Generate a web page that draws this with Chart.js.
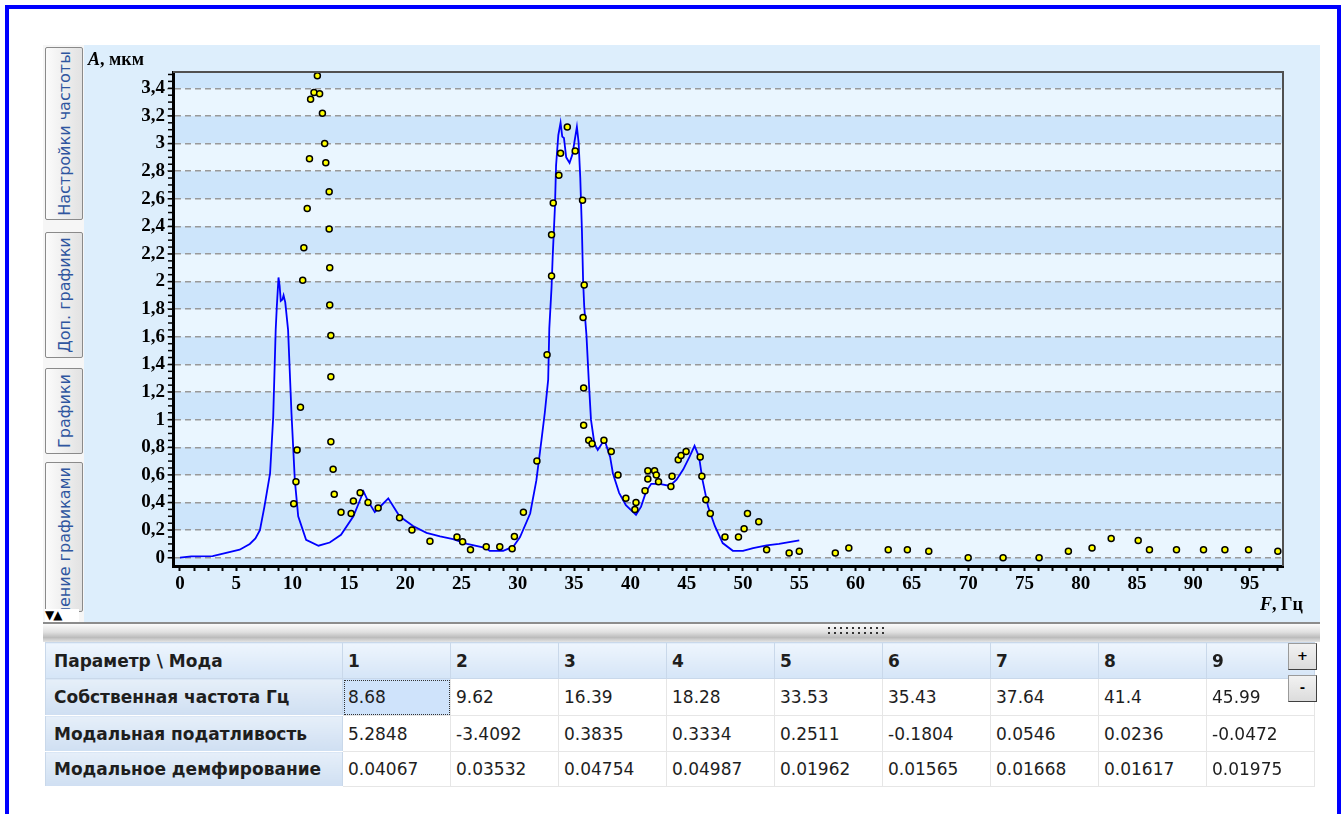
<!DOCTYPE html>
<html>
<head>
<meta charset="utf-8">
<script src="https://cdn.jsdelivr.net/npm/chart.js@4.4.0/dist/chart.umd.min.js"></script>
<style>
  body { margin: 0; width: 1344px; height: 814px; overflow: hidden; background: #fff; position: relative; font-family: "DejaVu Sans", sans-serif; }
  #frame { position: absolute; left: 5px; top: 5px; width: 1328px; height: 900px; border: 4px solid #0000ff; }
  #panel { position: absolute; left: 43px; top: 45px; width: 1277px; height: 577px; background: #ddeefc; }
  #strip { position: absolute; left: 43px; top: 45px; width: 41px; height: 577px; background: #f6f6f6; }
  .tab { position: absolute; left: 45px; width: 36px; background: linear-gradient(to right, #fbfbfb, #e2e2e2); border: 1px solid #8a8a8a; border-radius: 2px; overflow: hidden; }
  .tab .txt { position: absolute; left: 0; transform-origin: 0 0; transform: rotate(-90deg); display: flex; align-items: center; justify-content: center; white-space: nowrap; color: #2f56a0; font-size: 16px; }
  .tab .txt.end { justify-content: flex-end; padding-right: 4px; box-sizing: border-box; }
  #arrows { position: absolute; left: 45px; top: 609px; width: 34px; height: 13px; background: #fff; font-size: 12px; line-height: 13px; color: #000; letter-spacing: -1px; }
  #wrap { position: absolute; left: 84px; top: 45px; width: 1236px; height: 577px; }
  .atitle { position: absolute; font-family: "Liberation Serif", serif; font-weight: bold; font-size: 18px; color: #000; white-space: nowrap; }
  .atitle i { font-style: italic; }
  #split { position: absolute; left: 43px; top: 622px; width: 1277px; height: 18px; border-top: 2px solid #8c8c8c; background: linear-gradient(#fbfbfb, #e0e0e0 45%, #bcbcbc 75%, #e4e4e4); }
  .grip { position: absolute; left: 785px; width: 58px; height: 2px; background: repeating-linear-gradient(to right, #333 0 2px, transparent 2px 6px); }
  #tbl { position: absolute; left: 45px; top: 642px; border-collapse: collapse; table-layout: fixed; font-size: 17px; color: #1e1e1e; }
  #tbl td { padding: 0 0 0 5px; border: 1px solid #e6e6e6; background: #fff; white-space: nowrap; overflow: hidden; }
  #tbl tr.head td { background: linear-gradient(#eef5fd, #d5e5f7); border-color: #c9d8ea; font-weight: bold; }
  #tbl td.name { background: linear-gradient(#e6eff9, #cfdff2); border-color: #fff #c9d8ea; font-weight: bold; padding-left: 8px; }
  #tbl td.sel { background: #cfe3fb; outline: 1px dotted #333; outline-offset: -2px; }
  .btn { position: absolute; left: 1288px; width: 27px; height: 25px; background: linear-gradient(#f2f2f2, #dcdcdc); border: 1px solid #9a9a9a; border-right-color: #404040; border-bottom-color: #404040; font-weight: bold; font-size: 13px; text-align: center; line-height: 24px; color: #000; }
</style>
</head>
<body>
<div id="frame"></div>
<div id="panel"></div>
<div id="strip"></div>
<div class="tab" style="top:47px;height:171px"><div class="txt" style="top:171px;width:171px;height:36px">Настройки частоты</div></div>
<div class="tab" style="top:232px;height:124px"><div class="txt" style="top:124px;width:124px;height:36px">Доп. графики</div></div>
<div class="tab" style="top:368px;height:84px"><div class="txt" style="top:84px;width:84px;height:36px">Графики</div></div>
<div class="tab" style="top:462px;height:148px"><div class="txt end" style="top:148px;width:148px;height:36px">Управление графиками</div></div>
<div id="arrows">&#9660;&#9650;</div>
<div id="wrap"><canvas id="myChart" width="1236" height="577"></canvas></div>
<div class="atitle" style="left:88px;top:49px"><i>A</i>, мкм</div>
<div class="atitle" style="left:1260px;top:594px"><i>F</i>, Гц</div>
<div id="split"><div class="grip" style="top:3px"></div><div class="grip" style="top:8px"></div></div>
<table id="tbl"></table>
<div class="btn" style="top:643px">+</div>
<div class="btn" style="top:675px">-</div>

<script>
// расчётная АЧХ (синяя линия)
const lineF = [0, 1.0, 2.9, 4.1, 5.3, 6.2, 6.7, 7.1, 7.5, 8.0, 8.28, 8.5, 8.6, 8.75, 8.85, 8.95, 9.1, 9.2, 9.35, 9.6,
  9.9, 10.2, 10.5, 11.2, 12.3, 13.3, 14.3, 15.4, 16.0, 16.3, 16.7, 17.3, 17.9, 18.5, 19.5, 20.7, 21.9, 23.1, 24.25, 25.5,
  27.2, 27.5, 28.7, 29.6, 30.2, 31.1, 31.65, 32.1, 32.4, 32.7, 32.8, 33.0, 33.1, 33.3, 33.4, 33.6, 33.8, 33.95, 34.1, 34.3,
  34.6, 34.85, 35.05, 35.25, 35.4, 35.55, 35.7, 35.8, 35.9, 36.1, 36.3, 36.5, 36.8, 37.1, 37.5, 37.8, 38.2, 38.45, 39.0, 39.6,
  40.5, 40.95, 41.4, 41.85, 42.6, 43.5, 44.1, 44.7, 45.25, 45.7, 46.1, 46.4, 46.9, 47.5, 48.2, 49.1, 50.0, 50.9, 52.1, 53.2, 55.0];
const lineA = [0, 0.01, 0.012, 0.035, 0.058, 0.10, 0.14, 0.20, 0.37, 0.61, 1.02, 1.65, 1.82, 2.03, 1.97, 1.86, 1.87, 1.90, 1.85, 1.65,
  1.05, 0.56, 0.30, 0.13, 0.087, 0.11, 0.166, 0.30, 0.42, 0.48, 0.41, 0.33, 0.38, 0.43, 0.30, 0.23, 0.18, 0.154, 0.135, 0.10,
  0.07, 0.05, 0.05, 0.08, 0.15, 0.32, 0.56, 0.85, 1.05, 1.29, 1.66, 1.96, 2.18, 2.54, 2.84, 3.06, 3.15, 3.05, 3.04, 2.90,
  2.86, 2.92, 3.02, 3.12, 3.01, 2.75, 2.36, 2.01, 1.82, 1.61, 1.29, 1.0, 0.83, 0.78, 0.83, 0.83, 0.73, 0.61, 0.47, 0.38,
  0.31, 0.37, 0.48, 0.535, 0.535, 0.52, 0.565, 0.64, 0.73, 0.81, 0.73, 0.565, 0.37, 0.23, 0.106, 0.05, 0.05, 0.07, 0.09, 0.10, 0.125];

// экспериментальные точки (жёлтые)
const ptF = [10.1, 10.3, 10.4, 10.7, 10.9, 11.0, 11.3, 11.5, 11.6, 11.9, 12.2, 12.4, 12.65, 12.85, 12.95, 13.25, 13.25, 13.3, 13.3, 13.4,
  13.4, 13.4, 13.6, 13.7, 14.3, 15.2, 15.4, 16.0, 16.7, 17.6, 19.5, 20.6, 22.2, 24.6, 25.1, 25.8, 27.2, 28.4, 29.5, 29.7,
  30.5, 31.7, 32.6, 33.0, 33.0, 33.15, 33.65, 33.8, 34.4, 35.1, 35.75, 35.9, 35.8, 35.85, 35.85, 36.3, 36.6, 37.65, 38.3, 38.9,
  39.6, 40.5, 40.4, 41.3, 41.55, 41.55, 42.15, 42.3, 42.5, 43.6, 43.7, 44.25, 44.5, 44.95, 46.2, 46.35, 46.7, 47.1, 48.4, 49.6,
  50.1, 50.4, 51.4, 52.1, 54.1, 55.0, 58.2, 59.4, 62.9, 64.6, 66.5, 70.0, 73.1, 76.3, 78.9, 81.0, 82.7, 85.1, 86.1, 88.5,
  90.9, 92.8, 94.9, 97.5];
const ptA = [0.39, 0.55, 0.78, 1.09, 2.01, 2.245, 2.53, 2.89, 3.32, 3.37, 3.49, 3.36, 3.22, 3.00, 2.86, 2.65, 2.38, 2.10, 1.83, 1.61,
  1.31, 0.84, 0.64, 0.46, 0.33, 0.32, 0.41, 0.47, 0.40, 0.36, 0.29, 0.20, 0.12, 0.15, 0.116, 0.058, 0.08, 0.08, 0.065, 0.154,
  0.33, 0.70, 1.47, 2.04, 2.34, 2.57, 2.77, 2.93, 3.12, 2.945, 2.59, 1.975, 1.74, 1.23, 0.96, 0.85, 0.825, 0.85, 0.77, 0.60,
  0.43, 0.40, 0.35, 0.485, 0.63, 0.57, 0.63, 0.60, 0.55, 0.515, 0.59, 0.71, 0.74, 0.77, 0.73, 0.59, 0.42, 0.32, 0.15, 0.15,
  0.21, 0.32, 0.26, 0.058, 0.034, 0.046, 0.034, 0.07, 0.058, 0.058, 0.046, 0, 0, 0, 0.046, 0.07, 0.14, 0.125, 0.058, 0.058,
  0.058, 0.058, 0.058, 0.046];

const xTickLabels = [0, 5, 10, 15, 20, 25, 30, 35, 40, 45, 50, 55, 60, 65, 70, 75, 80, 85, 90, 95];
const yTickLabels = ['0', '0,2', '0,4', '0,6', '0,8', '1', '1,2', '1,4', '1,6', '1,8', '2', '2,2', '2,4', '2,6', '2,8', '3', '3,2', '3,4'];

// таблица мод
const modes = ['1', '2', '3', '4', '5', '6', '7', '8', '9'];
const freqs = ['8.68', '9.62', '16.39', '18.28', '33.53', '35.43', '37.64', '41.4', '45.99'];
const compliance = ['5.2848', '-3.4092', '0.3835', '0.3334', '0.2511', '-0.1804', '0.0546', '0.0236', '-0.0472'];
const damping = ['0.04067', '0.03532', '0.04754', '0.04987', '0.01962', '0.01565', '0.01668', '0.01617', '0.01975'];

const tbl = document.getElementById('tbl');
const cg = document.createElement('colgroup');
[297].concat(modes.map(() => 108)).forEach(w => {
  const c = document.createElement('col'); c.style.width = w + 'px'; cg.appendChild(c);
});
tbl.appendChild(cg);
function addRow(name, vals, cls, h) {
  const tr = document.createElement('tr');
  if (cls) tr.className = cls;
  tr.style.height = h + 'px';
  const th = document.createElement('td');
  th.className = 'name'; th.textContent = name; tr.appendChild(th);
  vals.forEach((v, i) => {
    const td = document.createElement('td');
    td.textContent = v;
    if (name === 'Собственная частота Гц' && i === 0) td.className = 'sel';
    tr.appendChild(td);
  });
  tbl.appendChild(tr);
}
addRow('Параметр \\ Мода', modes, 'head', 36);
addRow('Собственная частота Гц', freqs, '', 37);
addRow('Модальная податливость', compliance, '', 36);
addRow('Модальное демфирование', damping, '', 35);

const linePts = lineF.map((f, i) => ({ x: f, y: lineA[i] }));
const dots = ptF.map((f, i) => ({ x: f, y: ptA[i] }));

const bands = {
  id: 'bands',
  beforeDraw(chart) {
    const { ctx, chartArea: a, scales: { y } } = chart;
    ctx.save();
    ctx.fillStyle = '#eaf6ff';
    ctx.fillRect(a.left, a.top, a.width, a.height);
    ctx.beginPath();
    ctx.rect(a.left, a.top, a.width, a.height);
    ctx.clip();
    ctx.fillStyle = '#cde5fb';
    for (let k = -1; k < 9; k++) {
      const y1 = y.getPixelForValue(0.4 + 0.4 * k);
      const y0 = y.getPixelForValue(0.2 + 0.4 * k);
      ctx.fillRect(a.left, y1, a.width, y0 - y1);
    }
    ctx.restore();
  },
  afterDraw(chart) {
    const { ctx, chartArea: a, scales: { y } } = chart;
    ctx.save();
    ctx.strokeStyle = '#505050';
    ctx.lineWidth = 2;
    ctx.beginPath();
    ctx.moveTo(a.left, a.top);
    ctx.lineTo(a.right, a.top);
    ctx.lineTo(a.right, a.bottom);
    ctx.stroke();
    ctx.strokeStyle = '#000';
    ctx.lineWidth = 1.5;
    for (let i = 0; i <= 70; i++) {
      const py = y.getPixelForValue(i * 0.05);
      ctx.beginPath();
      ctx.moveTo(a.left - 5, py);
      ctx.lineTo(a.left, py);
      ctx.stroke();
    }
    ctx.restore();
  }
};

const ctx = document.getElementById('myChart');
new Chart(ctx, {
  type: 'line',
  data: {
    datasets: [
      {
        type: 'scatter',
        label: 'Эксперимент',
        data: dots,
        pointRadius: 3,
        pointBackgroundColor: '#ffff00',
        pointBorderColor: '#000',
        pointBorderWidth: 1.5,
        clip: false,
        order: 0
      },
      {
        type: 'line',
        label: 'Расчёт',
        data: linePts,
        borderColor: '#0000ff',
        borderWidth: 1.8,
        pointRadius: 0,
        tension: 0,
        fill: false,
        order: 1
      }
    ]
  },
  options: {
    responsive: false,
    animation: false,
    devicePixelRatio: 1,
    layout: { padding: { top: 27, right: 37, bottom: 0, left: 0 } },
    plugins: { legend: { display: false }, tooltip: { enabled: false } },
    scales: {
      x: {
        type: 'linear',
        min: -0.62,
        max: 97.96,
        afterFit: s => { s.height = 56; },
        border: { color: '#000', width: 3 },
        grid: { drawOnChartArea: false, drawTicks: true, tickLength: 5, tickColor: '#000', tickWidth: 2 },
        ticks: {
          stepSize: 1.25,
          includeBounds: false,
          autoSkip: false,
          maxRotation: 0,
          padding: 2,
          color: '#000',
          font: { family: 'Liberation Serif', weight: 'bold', size: 19 },
          callback: v => (xTickLabels.includes(v) ? String(v) : '')
        }
      },
      y: {
        min: -0.06,
        max: 3.518,
        afterFit: s => { s.width = 89; },
        border: { color: '#000', width: 3, dash: [6, 4] },
        grid: { color: '#999999', lineWidth: 1.5, drawTicks: true, tickLength: 6, tickColor: '#999999', tickBorderDash: [] },
        ticks: {
          stepSize: 0.2,
          includeBounds: false,
          autoSkip: false,
          padding: 2,
          color: '#000',
          font: { family: 'Liberation Serif', weight: 'bold', size: 19 },
          callback: v => yTickLabels[Math.round(v / 0.2)] || ''
        }
      }
    }
  },
  plugins: [bands]
});
</script>
</body>
</html>
